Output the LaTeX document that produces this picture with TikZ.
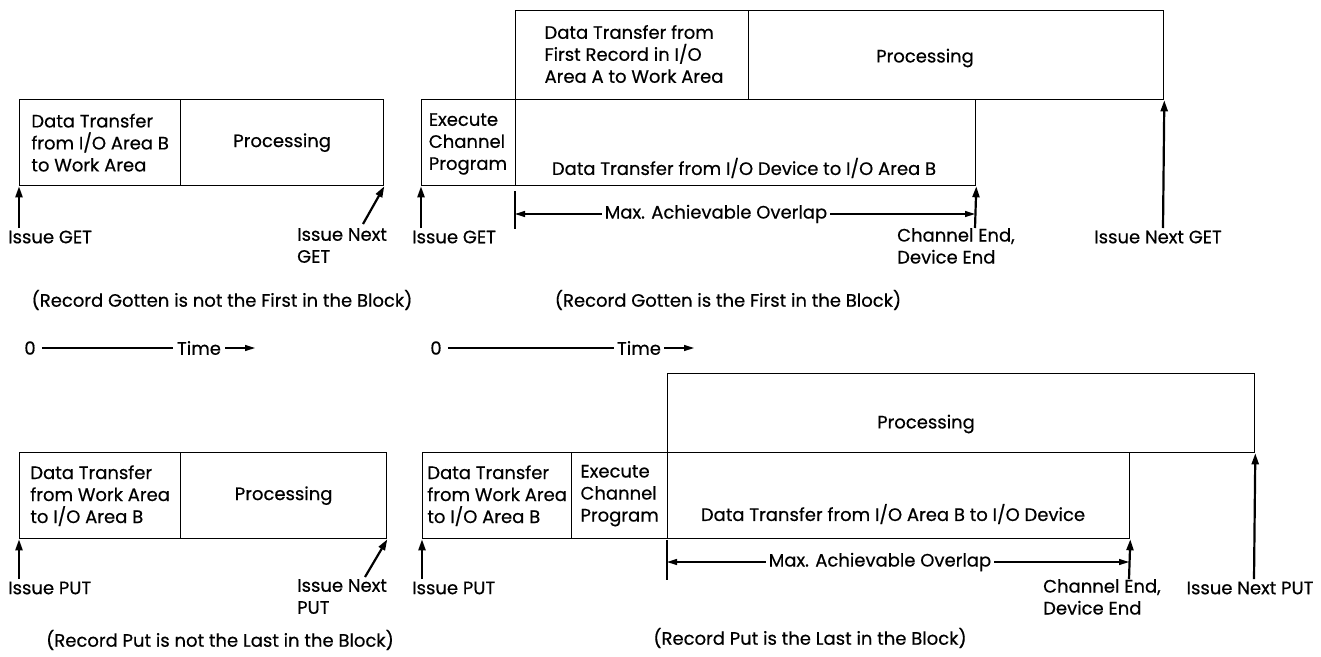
\documentclass[tikz,border=0pt]{standalone}
\usepackage{fontspec}
\setmainfont{Poppins}[FakeBold=0.5]
\usetikzlibrary{arrows.meta}

\begin{document}
\begin{tikzpicture}[x=1pt,y=-1pt,
  font=\fontsize{18}{22}\selectfont,
  box/.style={draw, line width=1.3pt, inner sep=0pt, anchor=north west},
  txt/.style={inner sep=0pt, align=left},
  issue/.style={line width=2.2pt, -{Triangle[length=11pt,width=7pt]}},
  span/.style={line width=1.3pt, {Triangle[length=10pt,width=6pt]}-{Triangle[length=10pt,width=6pt]}},
  tick/.style={line width=1.3pt},
  gap/.style={fill=white, inner xsep=3pt, inner ysep=1pt},
  timeline/.style={line width=1.3pt},
  timearrow/.style={line width=1.3pt, -{Triangle[length=10pt,width=6pt]}}]
\useasboundingbox (0,0) rectangle (1321,656);

% ---------- GET, record not the first in the block ----------
\node[box, minimum width=161, minimum height=86] (a1) at (19,99) {};
\node[box, minimum width=203, minimum height=86] (a2) at (180,99) {};
\node[txt] (a1t) at (a1.center) {Data Transfer\\from I/O Area B\\to Work Area};
\node[txt] (a2t) at (a2.center) {Processing};
\coordinate (ga) at (19,228);
\draw[issue] (ga) -- (a1.south west);
\node[txt, anchor=west] (gat) at (8,237) {Issue GET};
\coordinate (gb) at (363,224);
\draw[issue] (gb) -- (a2.south east);
\node[txt, anchor=north west] (gbt) at (297,228) {Issue Next\\GET};
\node[txt] (capa) at (222,300) {(Record Gotten is not the First in the Block)};

\node[txt] (za) at (30,348) {0};
\node[txt] (ta) at (199,348) {Time};
\coordinate (tae) at (255,348);
\draw[timeline] ([xshift=6pt]za.east) -- ([xshift=-4pt]ta.west);
\draw[timearrow] ([xshift=4pt]ta.east) -- (tae);

% ---------- GET, record is the first in the block ----------
\node[box, minimum width=233, minimum height=89] (b1) at (515,10) {};
\node[box, minimum width=415, minimum height=89] (b2) at (748,10) {};
\node[box, minimum width=94, minimum height=86] (b3) at (421,99) {};
\node[box, minimum width=460, minimum height=86] (b4) at (515,99) {};
\node[txt] (b1t) at (634,54) {Data Transfer from\\First Record in I/O\\Area A to Work Area};
\node[txt] (b2t) at (925,58) {Processing};
\node[txt] (b3t) at (468,144) {Execute\\Channel\\Program};
\node[txt] (b4t) at (744,168) {Data Transfer from I/O Device to I/O Area B};

\coordinate (gc) at (421,228);
\draw[issue] (gc) -- (b3.south west);
\node[txt, anchor=west] (gct) at (412,237) {Issue GET};

\coordinate (ova) at (515,214);
\coordinate (ovb) at (975,214);
\draw[tick] (515,191) -- (515,229);
\draw[span] (ova) -- (ovb);
\node[txt, gap] (ovt) at (716,214) {Max. Achievable Overlap};

\coordinate (ge) at (975,228);
\draw[issue] (ge) -- (b4.south east);
\node[txt, anchor=north west] (get) at (897,228) {Channel End,\\Device End};
\coordinate (gn) at (1163,228);
\draw[issue] (gn) -- (b2.south east);
\node[txt] (gnt) at (1158,237) {Issue Next GET};
\node[txt] (capb) at (728,300) {(Record Gotten is the First in the Block)};

\node[txt] (zb) at (436,348) {0};
\node[txt] (tb) at (639,348) {Time};
\coordinate (tbe) at (694,348);
\draw[timeline] ([xshift=6pt]zb.east) -- ([xshift=-3pt]tb.west);
\draw[timearrow] ([xshift=3pt]tb.east) -- (tbe);

% ---------- PUT, record not the last in the block ----------
\node[box, minimum width=161, minimum height=86] (c1) at (19,452) {};
\node[box, minimum width=206, minimum height=86] (c2) at (180,452) {};
\node[txt] (c1t) at (c1.center) {Data Transfer\\from Work Area\\to I/O Area B};
\node[txt] (c2t) at (c2.center) {Processing};
\coordinate (pa) at (19,579);
\draw[issue] (pa) -- (c1.south west);
\node[txt, anchor=west] (pat) at (8,588) {Issue PUT};
\coordinate (pb) at (365,577);
\draw[issue] (pb) -- (c2.south east);
\node[txt, anchor=north west] (pbt) at (297,579) {Issue Next\\PUT};
\node[txt] (capc) at (220,640) {(Record Put is not the Last in the Block)};

% ---------- PUT, record is the last in the block ----------
\node[box, minimum width=587, minimum height=79] (d0) at (667,373) {};
\node[box, minimum width=149, minimum height=86] (d1) at (422,452) {};
\node[box, minimum width=96, minimum height=86] (d2) at (571,452) {};
\node[box, minimum width=462, minimum height=86] (d3) at (667,452) {};
\node[txt] (d0t) at (926,424) {Processing};
\node[txt] (d1t) at (d1.center) {Data Transfer\\from Work Area\\to I/O Area B};
\node[txt] (d2t) at (d2.center) {Execute\\Channel\\Program};
\node[txt] (d3t) at (893,514) {Data Transfer from I/O Area B to I/O Device};

\coordinate (pc) at (422,579);
\draw[issue] (pc) -- (d1.south west);
\node[txt, anchor=west] (pct) at (412,588) {Issue PUT};

\coordinate (ovc) at (667,562);
\coordinate (ovd) at (1129,562);
\draw[tick] (667,540) -- (667,580);
\draw[span] (ovc) -- (ovd);
\node[txt, gap] (ovu) at (880,562) {Max. Achievable Overlap};

\coordinate (pe) at (1129,579);
\draw[issue] (pe) -- (d3.south east);
\node[txt, anchor=north west] (pet) at (1043,579) {Channel End,\\Device End};
\coordinate (pn) at (1254,579);
\draw[issue] (pn) -- (d0.south east);
\node[txt] (pnt) at (1250,588) {Issue Next PUT};
\node[txt] (capd) at (810,638) {(Record Put is the Last in the Block)};
\end{tikzpicture}
\end{document}
